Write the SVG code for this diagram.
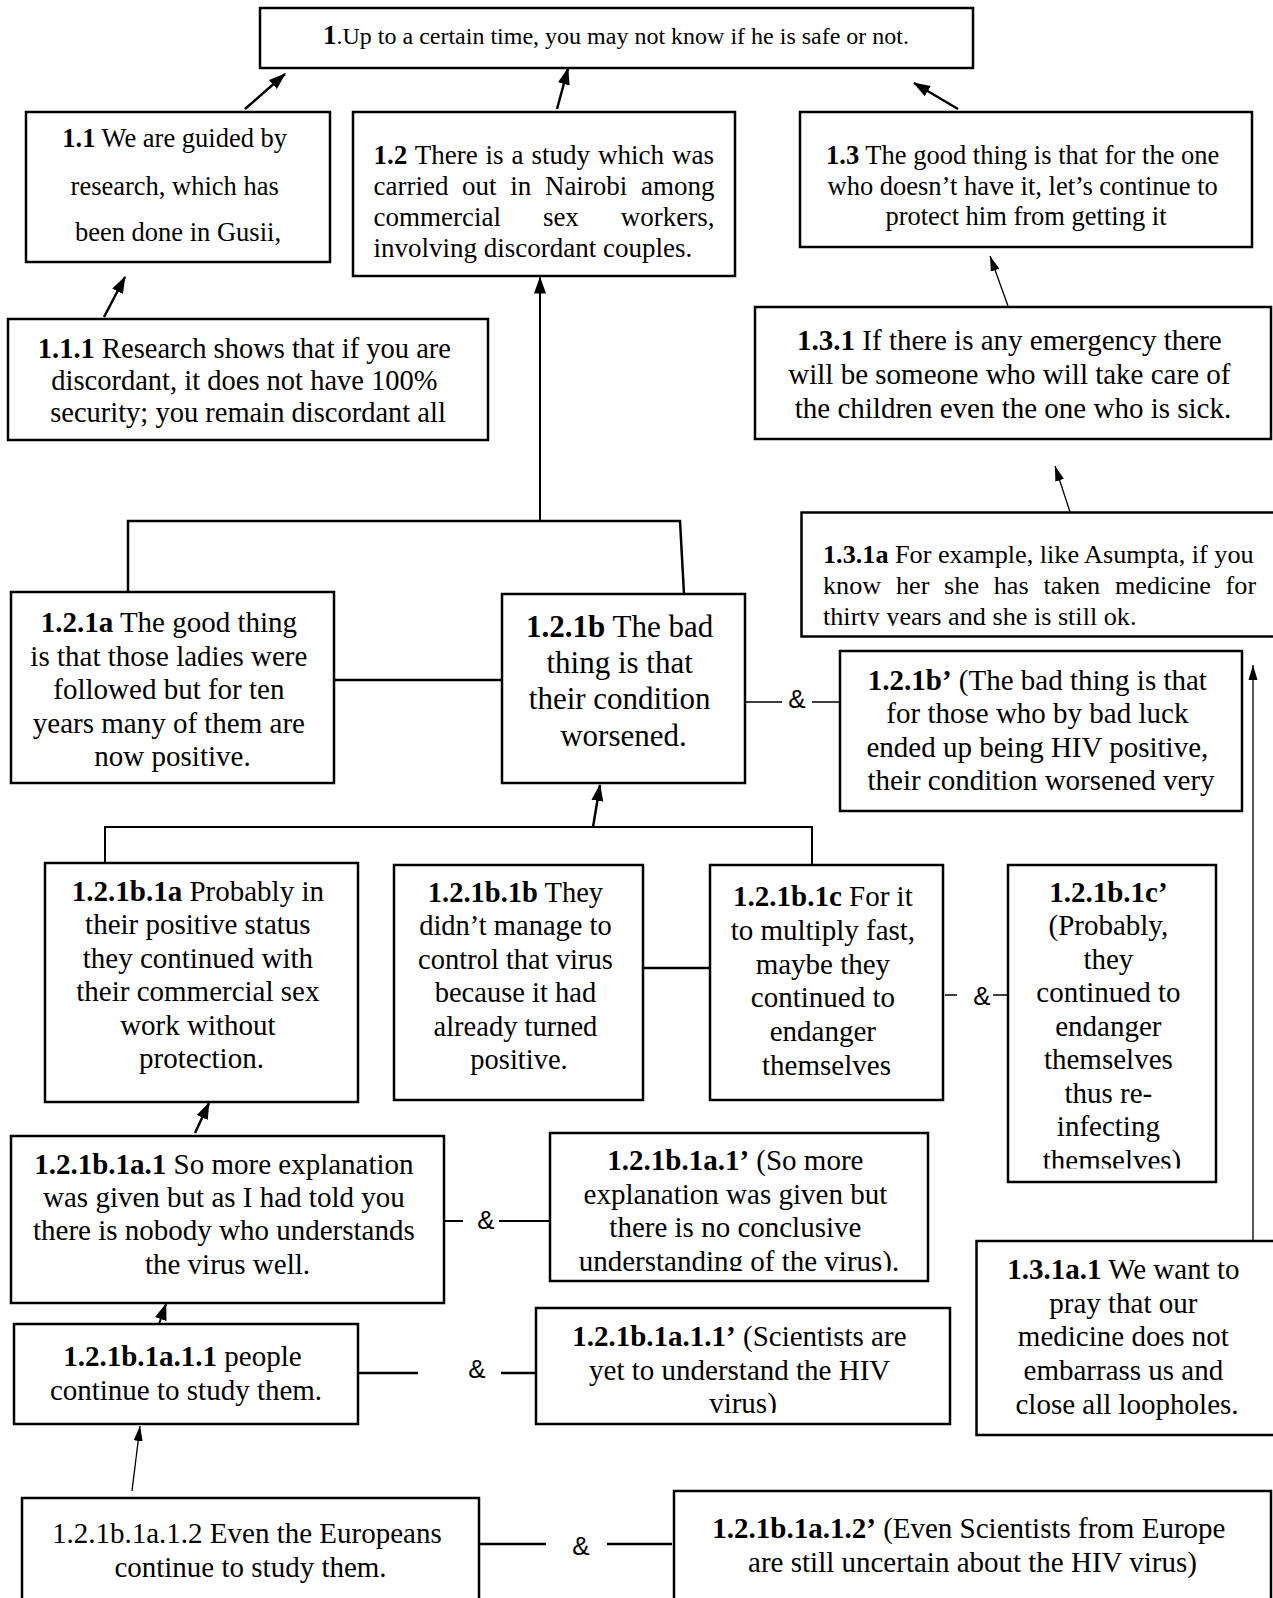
<svg xmlns="http://www.w3.org/2000/svg" width="1273" height="1598" viewBox="0 0 1273 1598">
  <style>
    .box { fill: #fff; stroke: #000; stroke-width: 2.5; }
    .t { font-family: "Liberation Serif", "Times New Roman", serif; fill: #000; }
    .c { text-anchor: middle; }
    .b { font-weight: bold; }
    .amp { font-family: "Liberation Sans", Arial, sans-serif; font-size: 26px; text-anchor: middle; fill: #000; }
    .ln { fill: none; stroke: #000; stroke-width: 2.5; }
    .ln2 { fill: none; stroke: #000; stroke-width: 2; }
    .thin { fill: none; stroke: #000; stroke-width: 1.3; }
    .arw { fill: none; stroke: #000; stroke-width: 2.5; marker-end: url(#headBold); }
    .arwt { fill: none; stroke: #000; stroke-width: 1.3; marker-end: url(#headThin); }
  </style>
  <defs>
    <marker id="headBold" markerUnits="userSpaceOnUse" markerWidth="18" markerHeight="14" refX="16" refY="7" orient="auto">
      <path d="M0,1 L17,7 L0,13 z" fill="#000"/>
    </marker>
    <marker id="headThin" markerUnits="userSpaceOnUse" markerWidth="16" markerHeight="12" refX="15" refY="5" orient="auto">
      <path d="M0,0.5 L15,5 L0,9.5 z" fill="#000"/>
    </marker>
    <clipPath id="clip131a"><rect x="802" y="514" width="470" height="112"/></clipPath>
    <clipPath id="clipC2"><rect x="1010" y="867" width="204" height="301.5"/></clipPath>
    <clipPath id="clipA1p"><rect x="552" y="1135" width="374" height="136"/></clipPath>
    <clipPath id="clipA11p"><rect x="538" y="1310" width="410" height="103"/></clipPath>
  </defs>

  <!-- connectors -->
  <g id="connectors">
    <path class="arw" d="M245,109 L285,74"/>
    <path class="arw" d="M557,109 L568,68.5"/>
    <path class="arw" d="M958,109 L914,83"/>
    <path class="arw" d="M104,317 L125,277"/>
    <path class="arw" d="M540,521 L540,277.5" style="stroke-width:2"/>
    <path class="arwt" d="M1008,306 L990,256"/>
    <path class="arwt" d="M1070,512 L1055,466"/>
    <path class="ln" d="M128,592 V521 H680 L684,594"/>
    <path class="ln" d="M334,680 H502"/>
    <path class="thin" d="M745,702 H782 M812,702 H840"/>
    <path class="arw" d="M593,827 L600,785"/>
    <path class="ln2" d="M105,863 V827 H812 V865"/>
    <path class="ln" d="M643,968 H710"/>
    <path class="thin" d="M945,995 H957 M993,995 H1008"/>
    <path class="arwt" d="M1253,1241 L1253,665"/>
    <path class="arw" d="M195,1133 L209,1103"/>
    <path class="ln2" d="M444,1221 H463 M499,1221 H550"/>
    <path class="arw" d="M159,1324 L166,1304" style="stroke-width:2"/>
    <path class="ln" d="M358,1373 H418 M501,1373 H536"/>
    <path class="arwt" d="M132,1491 L140,1426"/>
    <path class="ln" d="M479,1544 H546 M607,1544 H672"/>
    <text class="amp" x="797" y="708">&amp;</text>
    <text class="amp" x="982" y="1005">&amp;</text>
    <text class="amp" x="486" y="1229">&amp;</text>
    <text class="amp" x="477" y="1378">&amp;</text>
    <text class="amp" x="581" y="1555">&amp;</text>
  </g>

  <g id="n1">
    <rect class="box" x="260" y="8" width="713" height="60"/>
    <text class="t c" x="616" y="44" font-size="24"><tspan class="b" font-size="27">1</tspan>.Up to a certain time, you may not know if he is safe or not.</text>
  </g>

  <g id="n1_1">
    <rect class="box" x="26" y="112" width="304" height="150"/>
    <text class="t c" font-size="26.5">
      <tspan x="178" y="147"><tspan class="b">1.1</tspan> We are guided by</tspan>
      <tspan x="178" y="194.5">research, which has</tspan>
      <tspan x="178" y="241">been done in Gusii,</tspan>
    </text>
  </g>

  <g id="n1_2">
    <rect class="box" x="353" y="112" width="382" height="164"/>
    <text class="t" font-size="27" x="373.5" y="164" word-spacing="1.2"><tspan class="b">1.2</tspan> There is a study which was</text>
    <text class="t" font-size="27" x="373.5" y="195" word-spacing="6.9">carried out in Nairobi among</text>
    <text class="t" font-size="27" x="373.5" y="226" word-spacing="35.2">commercial sex workers,</text>
    <text class="t" font-size="27" x="373.5" y="257">involving discordant couples.</text>
  </g>

  <g id="n1_3">
    <rect class="box" x="800" y="112" width="452" height="135"/>
    <text class="t c" font-size="26.5">
      <tspan x="1026" y="164"><tspan class="b">1.3</tspan> The good thing is that for the one</tspan>
      <tspan x="1026" y="194.5">who doesn’t have it, let’s continue to</tspan>
      <tspan x="1026" y="225">protect him from getting it</tspan>
    </text>
  </g>

  <g id="n1_1_1">
    <rect class="box" x="8" y="319" width="480" height="121"/>
    <text class="t c" font-size="28.5">
      <tspan x="248" y="357.5"><tspan class="b">1.1.1</tspan> Research shows that if you are</tspan>
      <tspan x="248" y="390">discordant, it does not have 100%</tspan>
      <tspan x="248" y="422">security; you remain discordant all</tspan>
    </text>
  </g>

  <g id="n1_3_1">
    <rect class="box" x="755" y="307" width="516" height="132"/>
    <text class="t c" font-size="29">
      <tspan x="1013" y="350"><tspan class="b">1.3.1</tspan> If there is any emergency there</tspan>
      <tspan x="1013" y="383.5">will be someone who will take care of</tspan>
      <tspan x="1013" y="418">the children even the one who is sick.</tspan>
    </text>
  </g>

  <g id="n1_3_1a">
    <rect class="box" x="801.5" y="512.5" width="480" height="124"/>
    <g clip-path="url(#clip131a)">
      <text class="t" font-size="26.2" x="823" y="563"><tspan class="b">1.3.1a</tspan> For example, like Asumpta, if you</text>
      <text class="t" font-size="26.2" x="823" y="594" word-spacing="8.2">know her she has taken medicine for</text>
      <text class="t" font-size="26.2" x="823" y="624.5">thirty years and she is still ok.</text>
    </g>
  </g>

  <g id="n1_2_1a">
    <rect class="box" x="11" y="592" width="323" height="191"/>
    <text class="t c" font-size="29">
      <tspan x="172.5" y="632"><tspan class="b">1.2.1a</tspan> The good thing</tspan>
      <tspan x="172.5" y="665.5">is that those ladies were</tspan>
      <tspan x="172.5" y="699">followed but for ten</tspan>
      <tspan x="172.5" y="733">years many of them are</tspan>
      <tspan x="172.5" y="766">now positive.</tspan>
    </text>
  </g>

  <g id="n1_2_1b">
    <rect class="box" x="502" y="594" width="243" height="189"/>
    <text class="t c" font-size="31">
      <tspan x="623.5" y="637"><tspan class="b">1.2.1b</tspan> The bad</tspan>
      <tspan x="623.5" y="673">thing is that</tspan>
      <tspan x="623.5" y="709">their condition</tspan>
      <tspan x="623.5" y="746">worsened.</tspan>
    </text>
  </g>

  <g id="n1_2_1b_prime">
    <rect class="box" x="840" y="651" width="402" height="160"/>
    <text class="t c" font-size="29">
      <tspan x="1041" y="689.5"><tspan class="b">1.2.1b’</tspan> (The bad thing is that</tspan>
      <tspan x="1041" y="723">for those who by bad luck</tspan>
      <tspan x="1041" y="756.5">ended up being HIV positive,</tspan>
      <tspan x="1041" y="789.5">their condition worsened very</tspan>
    </text>
  </g>

  <g id="n1_2_1b_1a">
    <rect class="box" x="45" y="863" width="313" height="239"/>
    <text class="t c" font-size="29">
      <tspan x="201.5" y="900.5"><tspan class="b">1.2.1b.1a</tspan> Probably in</tspan>
      <tspan x="201.5" y="934">their positive status</tspan>
      <tspan x="201.5" y="967.5">they continued with</tspan>
      <tspan x="201.5" y="1001">their commercial sex</tspan>
      <tspan x="201.5" y="1034.5">work without</tspan>
      <tspan x="201.5" y="1068">protection.</tspan>
    </text>
  </g>

  <g id="n1_2_1b_1b">
    <rect class="box" x="394" y="865" width="249" height="235"/>
    <text class="t c" font-size="28.5">
      <tspan x="519" y="901.5"><tspan class="b">1.2.1b.1b</tspan> They</tspan>
      <tspan x="519" y="935">didn’t manage to</tspan>
      <tspan x="519" y="968.5">control that virus</tspan>
      <tspan x="519" y="1002">because it had</tspan>
      <tspan x="519" y="1035.5">already turned</tspan>
      <tspan x="519" y="1069">positive.</tspan>
    </text>
  </g>

  <g id="n1_2_1b_1c">
    <rect class="box" x="710" y="865" width="233" height="235"/>
    <text class="t c" font-size="29">
      <tspan x="826.5" y="906"><tspan class="b">1.2.1b.1c</tspan> For it</tspan>
      <tspan x="826.5" y="940">to multiply fast,</tspan>
      <tspan x="826.5" y="973.5">maybe they</tspan>
      <tspan x="826.5" y="1007">continued to</tspan>
      <tspan x="826.5" y="1041">endanger</tspan>
      <tspan x="826.5" y="1075">themselves</tspan>
    </text>
  </g>

  <g id="n1_2_1b_1c_prime">
    <rect class="box" x="1008" y="865" width="208" height="317"/>
    <g clip-path="url(#clipC2)">
      <text class="t c" font-size="29">
        <tspan x="1112" y="902" class="b">1.2.1b.1c’</tspan>
        <tspan x="1112" y="935">(Probably,</tspan>
        <tspan x="1112" y="968.5">they</tspan>
        <tspan x="1112" y="1002">continued to</tspan>
        <tspan x="1112" y="1035.5">endanger</tspan>
        <tspan x="1112" y="1069">themselves</tspan>
        <tspan x="1112" y="1102.5">thus re-</tspan>
        <tspan x="1112" y="1136">infecting</tspan>
        <tspan x="1112" y="1170">themselves)</tspan>
      </text>
    </g>
  </g>

  <g id="n1_2_1b_1a_1">
    <rect class="box" x="11" y="1136" width="433" height="167"/>
    <text class="t c" font-size="29">
      <tspan x="227.5" y="1173.5"><tspan class="b">1.2.1b.1a.1</tspan> So more explanation</tspan>
      <tspan x="227.5" y="1207">was given but as I had told you</tspan>
      <tspan x="227.5" y="1240">there is nobody who understands</tspan>
      <tspan x="227.5" y="1273.5">the virus well.</tspan>
    </text>
  </g>

  <g id="n1_2_1b_1a_1_prime">
    <rect class="box" x="550" y="1133" width="378" height="148"/>
    <g clip-path="url(#clipA1p)">
      <text class="t c" font-size="29">
        <tspan x="739" y="1170"><tspan class="b">1.2.1b.1a.1’</tspan> (So more</tspan>
        <tspan x="739" y="1204">explanation was given but</tspan>
        <tspan x="739" y="1236.5">there is no conclusive</tspan>
        <tspan x="739" y="1270.5">understanding of the virus).</tspan>
      </text>
    </g>
  </g>

  <g id="n1_2_1b_1a_1_1">
    <rect class="box" x="14" y="1324" width="344" height="100"/>
    <text class="t c" font-size="29">
      <tspan x="186" y="1366"><tspan class="b">1.2.1b.1a.1.1</tspan> people</tspan>
      <tspan x="186" y="1400">continue to study them.</tspan>
    </text>
  </g>

  <g id="n1_2_1b_1a_1_1_prime">
    <rect class="box" x="536" y="1308" width="414" height="116"/>
    <g clip-path="url(#clipA11p)">
      <text class="t c" font-size="29">
        <tspan x="743" y="1346"><tspan class="b">1.2.1b.1a.1.1’</tspan> (Scientists are</tspan>
        <tspan x="743" y="1380">yet to understand the HIV</tspan>
        <tspan x="743" y="1412.5">virus)</tspan>
      </text>
    </g>
  </g>

  <g id="n1_3_1a_1">
    <rect class="box" x="976.5" y="1241" width="310" height="194"/>
    <text class="t c" font-size="29">
      <tspan x="1127" y="1279"><tspan class="b">1.3.1a.1</tspan> We want to</tspan>
      <tspan x="1127" y="1313">pray that our</tspan>
      <tspan x="1127" y="1346">medicine does not</tspan>
      <tspan x="1127" y="1380">embarrass us and</tspan>
      <tspan x="1127" y="1414">close all loopholes.</tspan>
    </text>
  </g>

  <g id="n1_2_1b_1a_1_2">
    <rect class="box" x="22" y="1498" width="457" height="120"/>
    <text class="t c" font-size="29">
      <tspan x="250.5" y="1543">1.2.1b.1a.1.2 Even the Europeans</tspan>
      <tspan x="250.5" y="1577">continue to study them.</tspan>
    </text>
  </g>

  <g id="n1_2_1b_1a_1_2_prime">
    <rect class="box" x="674" y="1491" width="597" height="127"/>
    <text class="t c" font-size="29">
      <tspan x="972.5" y="1538"><tspan class="b">1.2.1b.1a.1.2’</tspan> (Even Scientists from Europe</tspan>
      <tspan x="972.5" y="1572">are still uncertain about the HIV virus)</tspan>
    </text>
  </g>
</svg>
